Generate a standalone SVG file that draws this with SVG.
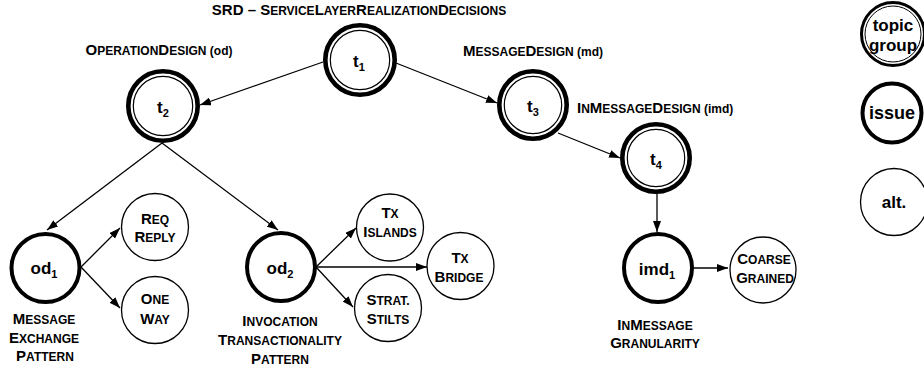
<svg xmlns="http://www.w3.org/2000/svg" width="924" height="369" viewBox="0 0 924 369">
<defs>
<style>
text{font-family:"Liberation Sans",Arial,Helvetica,sans-serif;font-weight:bold;fill:#000;text-anchor:middle}
.cap{font-size:15px}
.sc{font-size:12px}
.main{font-size:17px}
.sub{font-size:11px}
.st{text-anchor:start}
.tgo{fill:#fff;stroke:#000;stroke-width:4.6}
.tgi{fill:none;stroke:#000;stroke-width:1.2}
.iss{fill:#fff;stroke:#000;stroke-width:4}
.alt{fill:#fff;stroke:#000;stroke-width:1.3}
.conn line{stroke:#000;stroke-width:1.3;marker-end:url(#arr)}
</style>
<marker id="arr" markerUnits="userSpaceOnUse" markerWidth="11" markerHeight="8" refX="11" refY="4" orient="auto">
<path d="M0,0 L11,4 L0,8 z" fill="#000"/>
</marker>
</defs>
<rect width="924" height="369" fill="#fff"/>

<text class="cap" x="359" y="15">SRD – S<tspan class="sc">ERVICE</tspan>L<tspan class="sc">AYER</tspan>R<tspan class="sc">EALIZATION</tspan>D<tspan class="sc">ECISIONS</tspan></text>

<g id="connectors" class="conn">
<line x1="323" y1="62" x2="200" y2="105"/>
<line x1="396" y1="63" x2="497" y2="103"/>
<line x1="558" y1="133" x2="620" y2="158"/>
<line x1="162" y1="143" x2="47" y2="230"/>
<line x1="162" y1="143" x2="278" y2="230"/>
<line x1="81" y1="267" x2="120" y2="228"/>
<line x1="81" y1="267" x2="120" y2="308"/>
<line x1="316" y1="267" x2="356" y2="228"/>
<line x1="316" y1="267" x2="427" y2="267"/>
<line x1="316" y1="267" x2="353" y2="307"/>
<line x1="657" y1="194" x2="657" y2="232"/>
<line x1="693" y1="268" x2="728" y2="268"/>
</g>

<g id="t1">
<circle class="tgo" cx="360" cy="60" r="34.7"/>
<circle class="tgi" cx="360" cy="60" r="29.7"/>
<text class="main" x="359" y="67">t<tspan class="sub" dy="4">1</tspan></text>
</g>
<g id="t2">
<circle class="tgo" cx="163" cy="106" r="34.7"/>
<circle class="tgi" cx="163" cy="106" r="29.7"/>
<text class="main" x="163" y="113">t<tspan class="sub" dy="4">2</tspan></text>
<text class="cap" x="159" y="55">O<tspan class="sc">PERATION</tspan>D<tspan class="sc">ESIGN (od)</tspan></text>
</g>
<g id="t3">
<circle class="tgo" cx="533" cy="105" r="33.7"/>
<circle class="tgi" cx="533" cy="105" r="28.7"/>
<text class="main" x="533" y="112">t<tspan class="sub" dy="4">3</tspan></text>
<text class="cap st" x="463" y="56">M<tspan class="sc">ESSAGE</tspan>D<tspan class="sc">ESIGN (md)</tspan></text>
</g>
<g id="t4">
<circle class="tgo" cx="656" cy="158" r="33.7"/>
<circle class="tgi" cx="656" cy="158" r="28.7"/>
<text class="main" x="656" y="165">t<tspan class="sub" dy="4">4</tspan></text>
<text class="cap st" x="577" y="113">I<tspan class="sc">N</tspan>M<tspan class="sc">ESSAGE</tspan>D<tspan class="sc">ESIGN (imd)</tspan></text>
</g>

<g id="od1">
<circle class="iss" cx="45.5" cy="268" r="34"/>
<text class="main" x="44" y="274">od<tspan class="sub" dy="4">1</tspan></text>
<text class="cap" x="44" y="324">M<tspan class="sc">ESSAGE</tspan></text>
<text class="cap" x="44" y="342.5">E<tspan class="sc">XCHANGE</tspan></text>
<text class="cap" x="45" y="361">P<tspan class="sc">ATTERN</tspan></text>
</g>
<g id="od2">
<circle class="iss" cx="281" cy="267" r="34"/>
<text class="main" x="280" y="274">od<tspan class="sub" dy="4">2</tspan></text>
<text class="cap" x="280" y="326">I<tspan class="sc">NVOCATION</tspan></text>
<text class="cap" x="280" y="345">T<tspan class="sc">RANSACTIONALITY</tspan></text>
<text class="cap" x="280" y="363.5">P<tspan class="sc">ATTERN</tspan></text>
</g>
<g id="imd1">
<circle class="iss" cx="658" cy="268" r="34"/>
<text class="main" x="657" y="275">imd<tspan class="sub" dy="4">1</tspan></text>
<text class="cap" x="655" y="329.5">I<tspan class="sc">N</tspan>M<tspan class="sc">ESSAGE</tspan></text>
<text class="cap" x="655" y="348">G<tspan class="sc">RANULARITY</tspan></text>
</g>

<g id="reqreply">
<circle class="alt" cx="155" cy="227" r="33.5"/>
<text class="cap" x="155" y="224">R<tspan class="sc">EQ</tspan></text>
<text class="cap" x="155" y="242">R<tspan class="sc">EPLY</tspan></text>
</g>
<g id="oneway">
<circle class="alt" cx="155" cy="310" r="33.5"/>
<text class="cap" x="155" y="304">O<tspan class="sc">NE</tspan></text>
<text class="cap" x="155" y="323.5">W<tspan class="sc">AY</tspan></text>
</g>
<g id="txislands">
<circle class="alt" cx="390" cy="227.5" r="33.5"/>
<text class="cap" x="390" y="217.5">T<tspan class="sc">X</tspan></text>
<text class="cap" x="390" y="237">I<tspan class="sc">SLANDS</tspan></text>
</g>
<g id="txbridge">
<circle class="alt" cx="460.5" cy="266" r="33.5"/>
<text class="cap" x="460" y="263">T<tspan class="sc">X</tspan></text>
<text class="cap" x="459" y="282">B<tspan class="sc">RIDGE</tspan></text>
</g>
<g id="stratstilts">
<circle class="alt" cx="388" cy="308" r="33.5"/>
<text class="cap" x="388" y="305">S<tspan class="sc">TRAT.</tspan></text>
<text class="cap" x="388" y="324">S<tspan class="sc">TILTS</tspan></text>
</g>
<g id="coarsegrained">
<circle class="alt" cx="763" cy="270" r="33"/>
<text class="cap" x="764" y="264">C<tspan class="sc">OARSE</tspan></text>
<text class="cap" x="765" y="283">G<tspan class="sc">RAINED</tspan></text>
</g>

<g id="legend-topic">
<circle cx="893" cy="34" r="31.5" fill="#fff" stroke="#000" stroke-width="3"/>
<circle cx="893" cy="34" r="28" fill="none" stroke="#000" stroke-width="1"/>
<text x="893" y="31" font-size="17">topic</text>
<text x="893" y="51" font-size="17">group</text>
</g>
<g id="legend-issue">
<circle class="iss" cx="892" cy="113" r="29.5"/>
<text x="892" y="119" font-size="18">issue</text>
</g>
<g id="legend-alt">
<circle class="alt" cx="894" cy="202" r="33.5"/>
<text x="894" y="208" font-size="17">alt.</text>
</g>
</svg>
